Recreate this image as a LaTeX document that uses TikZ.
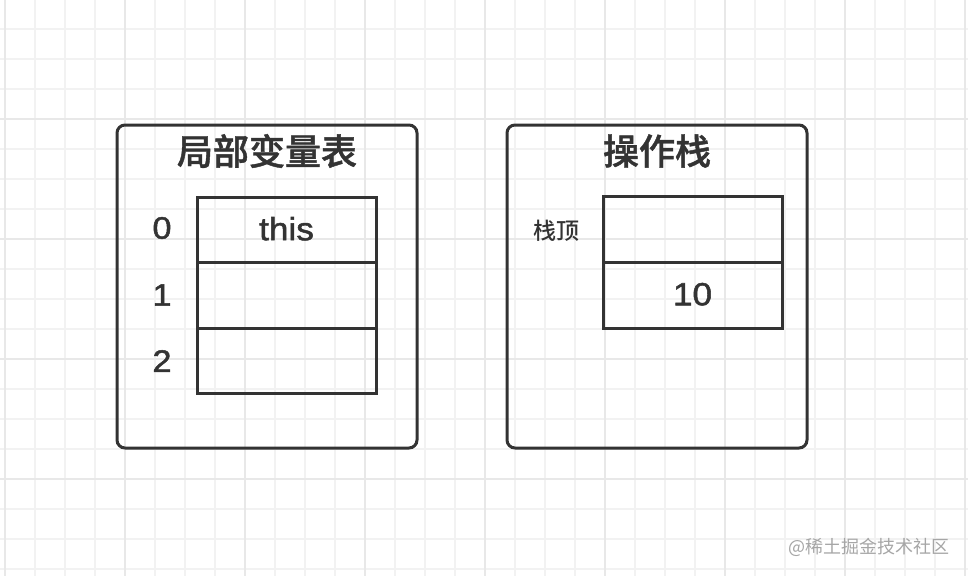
\documentclass[tikz,border=0pt]{standalone}
\usepackage{fontspec}
\setmainfont{Liberation Sans}[FakeStretch=1.1, FakeBold=1.6]
\newfontfamily\cjk{Noto Sans CJK SC}
\newfontfamily\cjkm{Noto Sans CJK SC Medium}[FakeBold=1.2]
\newfontfamily\cjks{Noto Sans CJK SC Medium}
\definecolor{ink}{HTML}{333333}
\definecolor{gridminor}{HTML}{F2F2F2}
\definecolor{gridmajor}{HTML}{E8E8E8}
\definecolor{mark}{HTML}{A6A6A6}
\tikzset{
  panel/.style={draw=ink, line width=3pt, rounded corners=8pt},
  cell/.style={draw=ink, line width=3pt, minimum width=179pt, minimum height=65.5pt, inner sep=0pt, outer sep=0pt, anchor=north west},
  title/.style={font=\cjkm\fontsize{36}{40}\selectfont, text=ink},
  idx/.style={font=\fontsize{31}{34}\selectfont, text=ink},
  val/.style={font=\fontsize{32}{34}\selectfont, text=ink},
  small/.style={font=\cjks\fontsize{23}{26}\selectfont, text=ink},
}
\begin{document}
\begin{tikzpicture}[x=1pt,y=-1pt]
\useasboundingbox (0,0) rectangle (968,576);
\fill[white] (0,0) rectangle (968,576);
% grid
\foreach \gx in {5,35,...,965} {\draw[gridminor, line width=2pt] (\gx,0) -- (\gx,576);}
\foreach \gy in {-1,29,...,575} {\draw[gridminor, line width=2pt] (0,\gy) -- (968,\gy);}
\foreach \gx in {5,125,...,965} {\draw[gridmajor, line width=2pt] (\gx,0) -- (\gx,576);}
\foreach \gy in {119,239,...,575} {\draw[gridmajor, line width=2pt] (0,\gy) -- (968,\gy);}
% left panel
\draw[panel] (117,125) rectangle (417,448);
\node[title] (t1) at (267,151) {局部变量表};
\node[cell] (c0) at (197,197) {};
\node[cell] (c1) at (197,262.5) {};
\node[cell] (c2) at (197,328) {};
\node[val] (v0) at ([yshift=1pt]c0.center) {this};
\node[idx] (i0) at (162,228) {0};
\node[idx] (i1) at (162,295) {1};
\node[idx] (i2) at (162,361) {2};
% right panel
\draw[panel] (507,125) rectangle (807,448);
\node[title] (t2) at (657,151) {操作栈};
\node[cell] (s0) at (603,196.5) {};
\node[cell] (s1) at (603,262.5) {};
\node[val] (v1) at ([xshift=0pt,yshift=1pt]s1.center) {10};
\node[small] (top) at (556,231) {栈顶};
% watermark
\node[font=\cjk\fontsize{18}{20}\selectfont, text=mark, anchor=east] (wm) at (953,547) {@稀土掘金技术社区};
\end{tikzpicture}
\end{document}
